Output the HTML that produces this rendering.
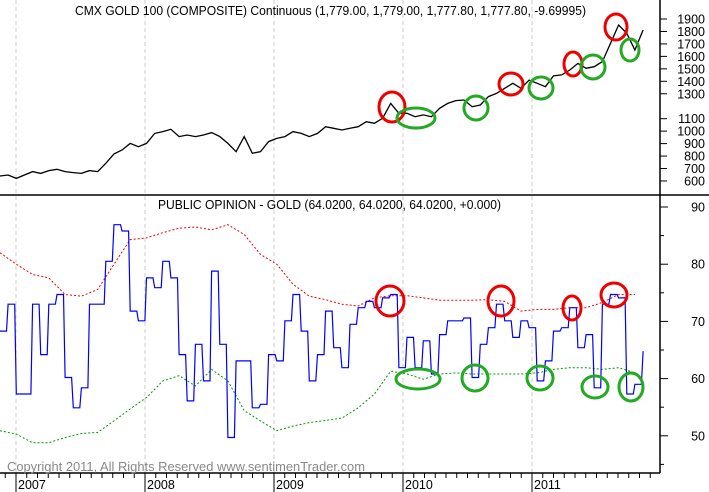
<!DOCTYPE html>
<html><head><meta charset="utf-8"><style>
html,body{margin:0;padding:0;background:#fff;}
svg{display:block;font-family:"Liberation Sans",sans-serif;}
</style></head><body>
<svg id="c" width="709" height="492" xmlns="http://www.w3.org/2000/svg">
<rect width="709" height="492" fill="#fff"/>
<g id="gridG"></g>
<g id="topG"></g>
<g id="botG"></g>
<g id="axesG"></g>
<g id="annG"></g>
<text x="75" y="15" font-size="12.5" fill="#000" textLength="511" lengthAdjust="spacingAndGlyphs">CMX GOLD 100 (COMPOSITE) Continuous (1,779.00, 1,779.00, 1,777.80, 1,777.80, -9.69995)</text>
<text x="158" y="209" font-size="12.5" fill="#000" textLength="343" lengthAdjust="spacingAndGlyphs">PUBLIC OPINION - GOLD (64.0200, 64.0200, 64.0200, +0.000)</text>
<text x="7" y="471" font-size="12.5" fill="#888" textLength="358" lengthAdjust="spacingAndGlyphs">Copyright 2011, All Rights Reserved  www.sentimenTrader.com</text>
</svg>
<script>
const goldStart = 2006.876;
const goldStep = 0.0631;
const goldValues = [640,648,621,648,675,661,683,694,675,667,661,683,675,742,817,849,902,875,902,982,996,1015,956,969,956,969,988,956,902,835,956,822,835,916,942,956,996,982,956,982,1036,1023,1009,1023,1036,1076,1063,1103,1223,1143,1143,1116,1130,1116,1183,1223,1245,1250,1196,1210,1277,1303,1344,1384,1344,1410,1384,1357,1443,1451,1491,1544,1504,1517,1558,1705,1852,1785,1651,1812];
const opinionValues = [68.3,73.0,57.3,57.3,73.0,64.2,73.0,74.7,60.2,54.9,58.4,73.0,73.0,80.5,86.9,85.8,71.8,70.1,77.6,75.9,80.5,77.6,64.2,56.1,66.0,59.6,78.8,66.0,49.7,63.1,63.1,54.9,55.5,64.2,63.1,70.1,74.7,68.3,59.6,64.2,71.8,65.4,61.9,69.5,72.4,73.5,72.4,74.1,74.7,61.9,67.2,61.9,66.6,60.8,67.7,70.1,70.1,70.6,60.2,66.0,68.9,73.0,70.1,67.2,70.1,68.9,59.6,63.1,68.3,68.9,72.4,65.4,67.7,58.4,73.0,74.7,74.1,57.3,59.0,64.8];
const bandStep = 0.1262;
const upperBand = [82.0,80.0,78.2,77.6,74.7,74.4,75.6,80.0,84.3,84.6,85.5,86.3,86.5,86.0,86.9,85.2,81.7,80.0,76.5,74.4,73.8,73.0,72.7,74.1,74.5,74.5,74.1,73.7,73.7,73.7,73.8,73.5,71.8,72.1,72.1,72.4,72.4,73.3,74.7,74.7];
const lowerBand = [50.9,50.3,48.8,48.8,49.7,50.4,50.6,52.6,54.7,56.7,59.6,60.5,58.7,61.6,59.6,54.4,52.6,50.9,51.7,52.3,52.7,53.1,54.9,57.3,61.3,60.8,59.9,60.8,61.0,60.8,60.8,60.8,60.8,61.0,61.6,61.9,61.9,61.6,61.9,61.0];
const years = ["2007","2008","2009","2010","2011"];
const goldTicks = [1900,1800,1700,1600,1500,1400,1300,1100,1000,900,800,700,600];
const opinionTicks = [90,80,70,60,50];

(function(){
const NS="http://www.w3.org/2000/svg";
const xT = t => 16 + (t-2007)*129;
const yG = v => 19 + (1900-v)*0.1246;
const yO = v => 207 + (90-v)*5.72;
function mk(tag, attrs, parent){const e=document.createElementNS(NS,tag);for(const k in attrs)e.setAttribute(k,attrs[k]);parent.appendChild(e);return e;}
const gridG=document.getElementById('gridG'),topG=document.getElementById('topG'),botG=document.getElementById('botG'),axesG=document.getElementById('axesG'),annG=document.getElementById('annG');

years.forEach((y,i)=>{
  const x=xT(2007+i);
  const g=mk('line',{x1:x,y1:0,x2:x,y2:473,stroke:'#ccc','stroke-dasharray':'4,3'},gridG);
  
  
  const t=mk('line',{x1:x,y1:473,x2:x,y2:492,stroke:'#000'},axesG);
  
  
  const l=mk('text',{x:x+2,y:489,'font-size':12.5,fill:'#000'},axesG);
  l.textContent=y;
  
  
});
for(let m=-1;m<60;m++){
  const x=xT(2007+m/12);
  if(x<0||x>655||m%12===0)continue;
  const t=mk('line',{x1:x,y1:473,x2:x,y2:478,stroke:'#000'},axesG);
  
  
}

const p=goldValues.map((v,i)=>(i?'L':'M')+xT(goldStart+i*goldStep).toFixed(1)+','+yG(v).toFixed(1)).join('');
const gl=mk('path',{d:p,fill:'none',stroke:'#000','stroke-width':1.3},topG);



function band(arr,color,name){
  const d=arr.map((v,i)=>(i?'L':'M')+xT(goldStart+i*bandStep).toFixed(1)+','+yO(v).toFixed(1)).join('');
  const e=mk('path',{d:d,fill:'none',stroke:color,'stroke-width':1,'stroke-dasharray':'2,2'},botG);
  
  
}
band(upperBand,'#e00','upper-band-line');
band(lowerBand,'#090','lower-band-line');
let d='';
opinionValues.forEach((v,i)=>{
  const x=xT(goldStart+i*goldStep), y=yO(v);
  if(i===0) d+='M'+x.toFixed(1)+','+y.toFixed(1);
  else { const xp=xT(goldStart+(i-0.2)*goldStep); d+='H'+xp.toFixed(1)+'L'+x.toFixed(1)+','+y.toFixed(1); }
});
const ol=mk('path',{d:d,fill:'none',stroke:'#00f','stroke-width':1.2},botG);



[[660,0,660,473],[0,195,709,195],[0,473,660,473]].forEach(a=>{
  const e=mk('line',{x1:a[0],y1:a[1],x2:a[2],y2:a[3],stroke:'#000','stroke-width':1.5},axesG);
  
  
});
goldTicks.forEach(v=>{
  const y=yG(v);
  const t=mk('line',{x1:660,y1:y,x2:667,y2:y,stroke:'#000'},axesG);
  
  
  const l=mk('text',{x:705,y:y+4.5,'font-size':12.5,'text-anchor':'end',fill:'#000'},axesG);
  l.textContent=v;
  
  
});
opinionTicks.forEach(v=>{
  const y=yO(v);
  const t=mk('line',{x1:660,y1:y,x2:668,y2:y,stroke:'#000'},axesG);
  
  
  const t2=mk('line',{x1:660,y1:yO(v-5),x2:664,y2:yO(v-5),stroke:'#000'},axesG);
  
  
  const l=mk('text',{x:705,y:y+4.5,'font-size':12.5,'text-anchor':'end',fill:'#000'},axesG);
  l.textContent=v;
  
  
});

const circles=[[392,107,13,15,'#e00'],[511,84,12,11,'#e00'],[573,64,9,12,'#e00'],[616,27,11,13,'#e00'],
[416,118,19,10,'#2a2'],[476,108,12,12,'#2a2'],[541,88,12,11,'#2a2'],[593,67,12,12,'#2a2'],[630,50,9,11,'#2a2'],
[390,301,14,15,'#e00'],[501,301,13,15,'#e00'],[572,308,9,12,'#e00'],[614,295,13,12,'#e00'],
[418,379,22,10,'#2a2'],[475,378,13,13,'#2a2'],[540,378,13,12,'#2a2'],[595,387,13,11,'#2a2'],[631,387,12,14,'#2a2']];
circles.forEach(c=>{
  const e=mk('ellipse',{cx:c[0],cy:c[1],rx:c[2],ry:c[3],fill:'none',stroke:c[4],'stroke-width':3},annG);
  
  
});
})();
</script>
</body></html>
